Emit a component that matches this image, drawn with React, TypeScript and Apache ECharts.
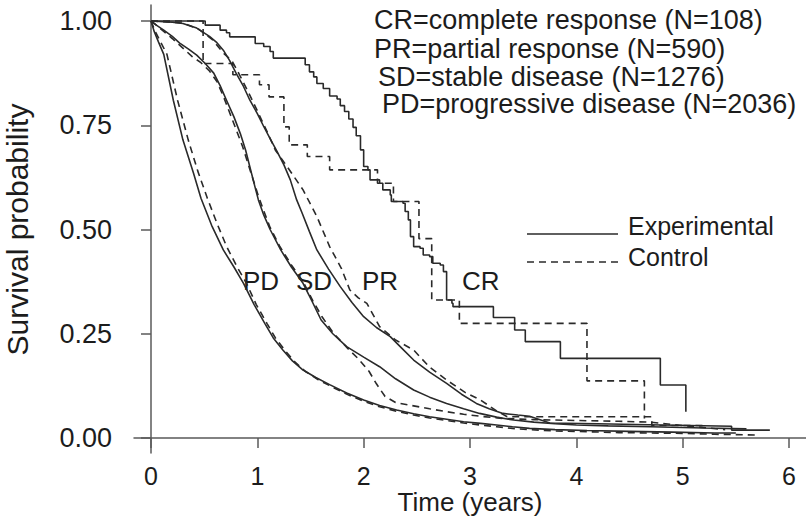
import React, { useEffect, useRef } from "react";
import * as echarts from "echarts";

// ---------- data ----------
const xTickValues = [0, 1, 2, 3, 4, 5, 6];
const yTickValues = [0, 0.25, 0.5, 0.75, 1];
const xTitle = "Time (years)";
const yTitle = "Survival probability";
const armNames = ["Experimental", "Control"];
const groupNotes = [
  "CR=complete response (N=108)",
  "PR=partial response (N=590)",
  "SD=stable disease (N=1276)",
  "PD=progressive disease (N=2036)",
];
const curveLabels = ["PD", "SD", "PR", "CR"];

const pdExperimental = [
  [0, 1], [0.03, 0.975], [0.07, 0.95], [0.12, 0.92], [0.21, 0.81], [0.3, 0.715], [0.4, 0.635],
  [0.47, 0.575], [0.57, 0.51], [0.68, 0.451], [0.78, 0.41], [0.87, 0.371], [0.97, 0.32],
  [1.07, 0.275], [1.15, 0.24], [1.24, 0.211], [1.33, 0.185], [1.43, 0.163], [1.55, 0.145],
  [1.68, 0.128], [1.84, 0.108], [2.0, 0.091], [2.15, 0.078], [2.31, 0.067], [2.47, 0.058],
  [2.62, 0.051], [2.78, 0.045], [2.94, 0.039], [3.1, 0.035], [3.25, 0.031], [3.4, 0.027],
  [3.56, 0.023], [3.8, 0.02], [4.1, 0.018], [4.5, 0.016], [4.9, 0.014], [5.3, 0.012], [5.5, 0.012],
];
const pdControl = [
  [0, 1], [0.04, 0.975], [0.09, 0.95], [0.15, 0.92], [0.25, 0.81], [0.35, 0.715], [0.44, 0.64],
  [0.53, 0.575], [0.62, 0.515], [0.71, 0.46], [0.81, 0.41], [0.9, 0.37], [0.99, 0.32],
  [1.09, 0.275], [1.17, 0.24], [1.26, 0.21], [1.35, 0.183], [1.45, 0.16], [1.57, 0.14],
  [1.7, 0.123], [1.85, 0.104], [2.0, 0.088], [2.15, 0.075], [2.31, 0.064], [2.47, 0.055],
  [2.62, 0.048], [2.78, 0.042], [2.94, 0.036], [3.1, 0.031], [3.25, 0.027], [3.4, 0.023],
  [3.56, 0.02], [3.8, 0.017], [4.1, 0.015], [4.4, 0.013], [4.7, 0.012], [5.0, 0.011],
  [5.3, 0.009], [5.71, 0.007],
];
const sdExperimental = [
  [0, 1], [0.05, 0.99], [0.12, 0.978], [0.2, 0.963], [0.27, 0.947], [0.35, 0.933], [0.43, 0.918],
  [0.51, 0.898], [0.59, 0.875], [0.65, 0.845], [0.71, 0.81], [0.78, 0.77], [0.84, 0.73],
  [0.89, 0.69], [0.93, 0.65], [0.97, 0.61], [1.01, 0.571], [1.06, 0.535], [1.12, 0.5],
  [1.22, 0.451], [1.32, 0.41], [1.43, 0.371], [1.52, 0.325], [1.6, 0.283], [1.71, 0.25],
  [1.84, 0.219], [2.0, 0.194], [2.15, 0.171], [2.3, 0.142], [2.47, 0.115], [2.62, 0.098],
  [2.78, 0.083], [2.94, 0.07], [3.09, 0.059], [3.25, 0.05], [3.41, 0.043], [3.6, 0.038],
  [3.8, 0.034], [4.0, 0.031], [4.3, 0.029], [4.7, 0.027], [5.2, 0.024], [5.6, 0.022],
];
const sdControl = [
  [0, 1], [0.05, 0.99], [0.12, 0.975], [0.2, 0.958], [0.3, 0.935], [0.39, 0.914], [0.47, 0.9],
  [0.55, 0.88], [0.62, 0.855], [0.68, 0.82], [0.74, 0.78], [0.8, 0.74], [0.86, 0.7],
  [0.91, 0.66], [0.96, 0.62], [1.01, 0.58], [1.06, 0.545], [1.12, 0.505], [1.21, 0.46],
  [1.32, 0.415], [1.43, 0.375], [1.52, 0.33], [1.61, 0.29], [1.72, 0.25], [1.85, 0.215],
  [1.95, 0.19], [2.05, 0.16], [2.12, 0.13], [2.2, 0.1], [2.3, 0.085], [2.47, 0.077],
  [2.62, 0.07], [2.78, 0.063], [2.94, 0.057], [3.1, 0.052], [3.3, 0.047], [3.6, 0.044],
  [4.0, 0.042], [4.4, 0.04], [4.7, 0.038], [5.0, 0.03], [5.4, 0.02],
];
const prExperimental = [
  [0, 1], [0.2, 0.997], [0.3, 0.994], [0.43, 0.983], [0.55, 0.963], [0.62, 0.948], [0.68, 0.93],
  [0.74, 0.905], [0.8, 0.875], [0.87, 0.843], [0.93, 0.81], [1.0, 0.778], [1.06, 0.747],
  [1.12, 0.718], [1.18, 0.69], [1.25, 0.655], [1.31, 0.619], [1.37, 0.571], [1.42, 0.54],
  [1.49, 0.495], [1.56, 0.451], [1.67, 0.405], [1.78, 0.363], [1.89, 0.325], [2.0, 0.291],
  [2.12, 0.265], [2.25, 0.243], [2.36, 0.215], [2.47, 0.187], [2.62, 0.158], [2.78, 0.131],
  [2.92, 0.105], [3.06, 0.083], [3.18, 0.07], [3.31, 0.059], [3.45, 0.055], [3.56, 0.052],
  [3.75, 0.036], [4.2, 0.034], [4.8, 0.031], [5.46, 0.028], [5.46, 0.019], [5.82, 0.019],
];
const prControl = [
  [0, 1], [0.3, 0.995], [0.45, 0.98], [0.58, 0.955], [0.68, 0.923], [0.76, 0.905], [0.81, 0.882],
  [0.92, 0.827], [0.99, 0.79], [1.1, 0.73], [1.17, 0.69], [1.28, 0.651], [1.43, 0.595],
  [1.56, 0.531], [1.68, 0.459], [1.79, 0.407], [1.87, 0.355], [1.95, 0.336], [2.03, 0.323],
  [2.15, 0.267], [2.3, 0.235], [2.47, 0.211], [2.62, 0.17], [2.78, 0.139], [2.95, 0.11],
  [3.1, 0.091], [3.25, 0.065], [3.35, 0.051], [4.71, 0.051], [4.71, 0.03], [5.2, 0.03],
];
const crExperimental = [
  [0, 1], [0.51, 0.99], [0.65, 0.978], [0.71, 0.972], [0.74, 0.962], [0.98, 0.946], [1.06, 0.939],
  [1.12, 0.927], [1.15, 0.911], [1.45, 0.895], [1.49, 0.878], [1.53, 0.866], [1.56, 0.85],
  [1.62, 0.838], [1.68, 0.82], [1.75, 0.813], [1.78, 0.797], [1.82, 0.783], [1.86, 0.765],
  [1.9, 0.745], [1.93, 0.725], [1.97, 0.691], [2.0, 0.651], [2.04, 0.643], [2.06, 0.619],
  [2.15, 0.611], [2.18, 0.595], [2.25, 0.583], [2.26, 0.567], [2.37, 0.563], [2.39, 0.543],
  [2.42, 0.523], [2.44, 0.483], [2.47, 0.459], [2.53, 0.455], [2.56, 0.439], [2.62, 0.435],
  [2.65, 0.419], [2.72, 0.415], [2.75, 0.399], [2.78, 0.331], [2.83, 0.323], [2.84, 0.315],
  [3.22, 0.289], [3.42, 0.259], [3.52, 0.231], [3.85, 0.191], [4.79, 0.127], [5.03, 0.063],
];
const crControl = [
  [0, 1], [0.49, 0.898], [0.77, 0.871], [1.02, 0.847], [1.11, 0.818], [1.25, 0.746],
  [1.3, 0.703], [1.47, 0.675], [1.68, 0.643], [2.13, 0.611], [2.28, 0.567], [2.52, 0.478],
  [2.64, 0.331], [2.9, 0.275], [4.1, 0.137], [4.64, 0.047],
];

// ---------- layout ----------
const W = 806;
const H = 518;
const FONT = '"Liberation Sans", Arial, Helvetica, sans-serif';
const INK = "#1c1c1c";
const LINE = "#2a2a2a";
const AXIS = "#5a5a5a";
// tick grid (exact 0..6 x 0..1 box)
const TG = { left: 151, top: 21, width: 638, height: 417 };
// outer frame where axis lines are drawn
const FR = { left: 134, top: 5, width: 672, height: 448 };
const DASH = [7, 5];

export default function App() {
  const ref = useRef<HTMLDivElement>(null);

  useEffect(() => {
    document.body.style.margin = "0";
    if (!ref.current) return;
    const chart = echarts.init(ref.current, null, { renderer: "svg" });

    const pxPerX = TG.width / (xTickValues[xTickValues.length - 1] - xTickValues[0]);
    const pxPerY = TG.height / (yTickValues[yTickValues.length - 1] - yTickValues[0]);
    const xMin = xTickValues[0] - (TG.left - FR.left) / pxPerX;
    const xMax = xMin + FR.width / pxPerX;
    const yMax = yTickValues[yTickValues.length - 1] + (TG.top - FR.top) / pxPerY;
    const yMin = yMax - FR.height / pxPerY;

    const solid = { color: LINE, width: 1.6, type: "solid" as const };
    const dashed = { color: LINE, width: 1.6, type: DASH as any };
    const curves = [
      { data: crExperimental, style: solid, name: armNames[0], step: "end" },
      { data: crControl, style: dashed, name: armNames[1], step: "end" },
      { data: prExperimental, style: solid, name: armNames[0], step: false },
      { data: prControl, style: dashed, name: armNames[1], step: false },
      { data: sdExperimental, style: solid, name: armNames[0], step: false },
      { data: sdControl, style: dashed, name: armNames[1], step: false },
      { data: pdExperimental, style: solid, name: armNames[0], step: false },
      { data: pdControl, style: dashed, name: armNames[1], step: false },
    ];

    const noteX = [374, 374, 378, 382];
    const noteY = [20, 49, 77, 104];
    const labelX = [243, 296, 362, 462];
    const labelY = 281;
    const keyLineY = [234, 262];
    const keyTextY = [226, 257];

    chart.setOption({
      animation: false,
      backgroundColor: "#ffffff",
      textStyle: { fontFamily: FONT, color: INK },
      grid: [
        { left: FR.left, top: FR.top, width: FR.width, height: FR.height, containLabel: false, outerBoundsMode: "none" },
        { left: TG.left, top: TG.top, width: TG.width, height: TG.height, containLabel: false, outerBoundsMode: "none" },
      ],
      xAxis: [
        {
          type: "value", gridIndex: 0, min: xMin, max: xMax,
          axisLine: { show: true, lineStyle: { color: AXIS, width: 1.5 } },
          axisTick: { show: false }, axisLabel: { show: false }, splitLine: { show: false },
        },
        {
          type: "value", gridIndex: 1, min: xTickValues[0], max: xTickValues[xTickValues.length - 1],
          interval: 1, offset: FR.top + FR.height - (TG.top + TG.height),
          axisLine: { show: false },
          axisTick: { show: true, length: 10, lineStyle: { color: AXIS, width: 1.5 } },
          axisLabel: { show: true, fontSize: 25, lineHeight: 25, color: INK, fontFamily: FONT, margin: 10, hideOverlap: false },
          splitLine: { show: false },
          name: xTitle, nameLocation: "middle", nameGap: 36, nameMoveOverlap: false,
          nameTextStyle: { fontSize: 26, lineHeight: 26, color: INK, fontFamily: FONT },
        },
      ],
      yAxis: [
        {
          type: "value", gridIndex: 0, min: yMin, max: yMax,
          axisLine: { show: true, lineStyle: { color: AXIS, width: 1.5 } },
          axisTick: { show: false }, axisLabel: { show: false }, splitLine: { show: false },
        },
        {
          type: "value", gridIndex: 1, min: yTickValues[0], max: yTickValues[yTickValues.length - 1],
          interval: 0.25, offset: TG.left - FR.left,
          axisLine: { show: false },
          axisTick: { show: true, length: 10, lineStyle: { color: AXIS, width: 1.5 } },
          axisLabel: {
            show: true, fontSize: 27, color: INK, fontFamily: FONT, margin: 22,
            formatter: (v: number) => v.toFixed(2),
          },
          splitLine: { show: false },
          name: yTitle, nameLocation: "middle", nameGap: 102, nameRotate: 90, nameMoveOverlap: false,
          nameTextStyle: { fontSize: 30, color: INK, fontFamily: FONT },
        },
      ],
      series: curves.map((c) => ({
        type: "line",
        name: c.name,
        xAxisIndex: 0,
        yAxisIndex: 0,
        data: c.data,
        step: c.step,
        symbol: "none",
        showSymbol: false,
        silent: true,
        lineStyle: c.style,
        itemStyle: { color: LINE },
      })),
      graphic: [
        ...groupNotes.map((t, i) => ({
          type: "text",
          x: noteX[i],
          y: noteY[i],
          silent: true,
          style: { text: t, fontSize: 27, lineHeight: 26, fontFamily: FONT, fill: INK, align: "left", verticalAlign: "middle" },
        })),
        ...curveLabels.map((t, i) => ({
          type: "text",
          x: labelX[i],
          y: labelY,
          silent: true,
          style: { text: t, fontSize: 26, fontFamily: FONT, fill: INK, align: "left", verticalAlign: "middle" },
        })),
        ...armNames.map((t, i) => ({
          type: "group",
          silent: true,
          children: [
            {
              type: "line",
              shape: { x1: 527, y1: keyLineY[i], x2: 618, y2: keyLineY[i] },
              style: { stroke: LINE, lineWidth: 1.6, lineDash: i === 0 ? null : DASH },
            },
            {
              type: "text",
              x: 628,
              y: keyTextY[i],
              style: { text: t, fontSize: 25, lineHeight: 25, fontFamily: FONT, fill: INK, align: "left", verticalAlign: "middle" },
            },
          ],
        })),
      ],
    });

    return () => chart.dispose();
  }, []);

  return <div ref={ref} style={{ width: W, height: H }} />;
}
